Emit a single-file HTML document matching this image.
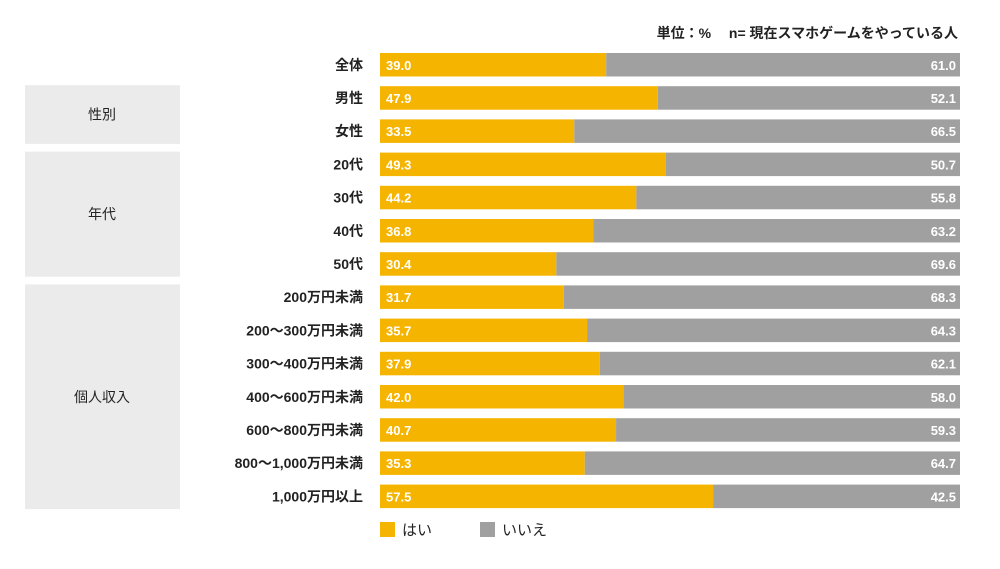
<!DOCTYPE html>
<html><head><meta charset="utf-8">
<style>
body{margin:0;background:#fff;font-family:"Liberation Sans","Noto Sans CJK JP",sans-serif;}
svg text{font-family:"Liberation Sans","Noto Sans CJK JP",sans-serif;}
</style></head>
<body>
<svg id="chart" width="1000" height="564" viewBox="0 0 1000 564">
<text x="958" y="38" text-anchor="end" font-size="14" font-weight="bold" fill="#222">単位：%　 n= 現在スマホゲームをやっている人</text>
<g id="groups"></g>
<g id="bars"></g>
<g>
<rect x="380" y="522" width="15" height="15" fill="#f5b400"/>
<text x="402" y="535" font-size="15" fill="#222">はい</text>
<rect x="480" y="522" width="15" height="15" fill="#a0a0a0"/>
<text x="502" y="535" font-size="15" fill="#222">いいえ</text>
</g>
</svg>
<script>
const categories=["全体","男性","女性","20代","30代","40代","50代","200万円未満","200～300万円未満","300～400万円未満","400～600万円未満","600～800万円未満","800～1,000万円未満","1,000万円以上"];
const yesValues=[39.0,47.9,33.5,49.3,44.2,36.8,30.4,31.7,35.7,37.9,42.0,40.7,35.3,57.5];
const noValues=[61.0,52.1,66.5,50.7,55.8,63.2,69.6,68.3,64.3,62.1,58.0,59.3,64.7,42.5];
const groupLabels=["性別","年代","個人収入"];
const groupStart=[1,3,7];
const groupEnd=[2,6,13];

const NS="http://www.w3.org/2000/svg";
const x0=380,W=580,top0=53,step=33.2,bh=23.5;
const xs=v=>x0+v/100*W;
const yr=i=>top0+i*step;
function mk(t,a){const e=document.createElementNS(NS,t);for(const k in a)e.setAttribute(k,a[k]);return e;}
const gg=document.getElementById('groups'),bg=document.getElementById('bars');
groupLabels.forEach((g,j)=>{
  const y1=yr(groupStart[j])-1,y2=yr(groupEnd[j])+bh+1;
  const r=mk('rect',{x:25,y:y1,width:155,height:y2-y1,fill:'#ebebeb'});
  
  
  gg.appendChild(r);
  const t=mk('text',{x:102,y:(y1+y2)/2+5,'text-anchor':'middle','font-size':14,fill:'#222'});
  t.textContent=g;
  
  
  gg.appendChild(t);
});
categories.forEach((c,i)=>{
  const y=yr(i);
  const l=mk('text',{x:363,y:y+bh/2+5,'text-anchor':'end','font-size':14,'font-weight':'bold',fill:'#222'});
  l.textContent=c;
  
  
  bg.appendChild(l);
  const a=mk('rect',{x:xs(0),y:y,width:xs(yesValues[i])-xs(0),height:bh,fill:'#f5b400'});
  
  
  bg.appendChild(a);
  const b=mk('rect',{x:xs(yesValues[i]),y:y,width:xs(yesValues[i]+noValues[i])-xs(yesValues[i]),height:bh,fill:'#a0a0a0'});
  
  
  bg.appendChild(b);
  const ta=mk('text',{x:xs(0)+6,y:y+bh/2+5,'font-size':13,'font-weight':'bold',fill:'#fff'});
  ta.textContent=yesValues[i].toFixed(1);
  
  
  bg.appendChild(ta);
  const tb=mk('text',{x:xs(yesValues[i]+noValues[i])-4,y:y+bh/2+5,'text-anchor':'end','font-size':13,'font-weight':'bold',fill:'#fff'});
  tb.textContent=noValues[i].toFixed(1);
  
  
  bg.appendChild(tb);
});
</script>
</body></html>
